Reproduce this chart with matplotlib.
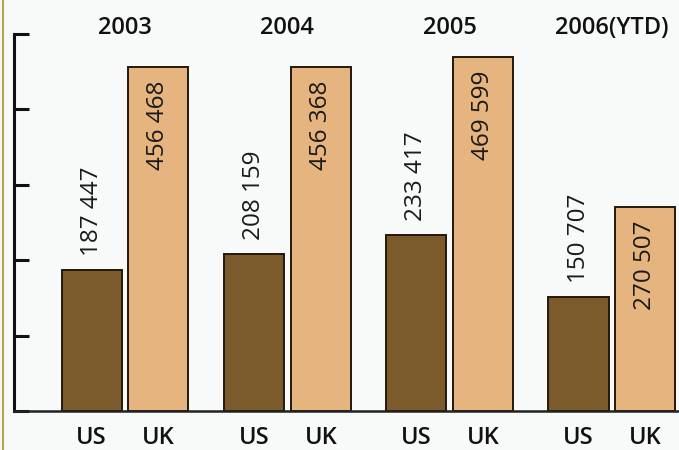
import matplotlib
matplotlib.use("Agg")
import matplotlib.pyplot as plt
import numpy as np
from matplotlib.lines import Line2D

years = ["2003", "2004", "2005", "2006(YTD)"]
countries = ["US", "UK"]
us_values = [187447, 208159, 233417, 150707]
uk_values = [456468, 456368, 469599, 270507]
us_labels = ["187 447", "208 159", "233 417", "150 707"]
uk_labels = ["456 468", "456 368", "469 599", "270 507"]
yticks = [0, 100000, 200000, 300000, 400000, 500000]

plt.rcParams['font.family'] = ['Open Sans', 'DejaVu Sans']

W, H = 679, 450
fig = plt.figure(figsize=(W / 100, H / 100), dpi=100)
fig.patch.set_facecolor("#f8f9f9")
ax = fig.add_axes([14 / W, (H - 411) / H, (W - 14) / W, 377 / H])
ax.set_facecolor("#f8f9f9")

x = np.arange(len(years))
width = 0.37
off = 0.206
us_color = "#7b5a2c"
uk_color = "#e6b47e"
edge = "#24180b"

ax.bar(x - off, us_values, width, color=us_color, edgecolor=edge, linewidth=1.4, zorder=2)
ax.bar(x + off, uk_values, width, color=uk_color, edgecolor=edge, linewidth=1.4, zorder=2)

ax.set_xlim(-0.684, 3.413)
ax.set_ylim(0, 500000)

for xi, v, lab in zip(x, us_values, us_labels):
    ax.annotate(lab, (xi - off, v), xytext=(0, 10), textcoords="offset points",
                rotation=90, ha="center", va="bottom", fontsize=17.5, color="#1a1a1a")
for xi, v, lab in zip(x, uk_values, uk_labels):
    ax.annotate(lab, (xi + off, v), xytext=(0, -10), textcoords="offset points",
                rotation=90, ha="center", va="top", fontsize=17.5, color="#1a1a1a")

for xi, yr in zip(x, years):
    ax.text(xi, 1.016, yr, transform=ax.get_xaxis_transform(), ha="center", va="center",
            fontsize=17, fontweight="semibold", color="#111111", clip_on=False)

ticks_x = np.concatenate([x - off, x + off])
ax.set_xticks(ticks_x)
ax.set_xticklabels([countries[0]] * len(x) + [countries[1]] * len(x), fontsize=17,
                   fontweight="semibold", color="#111111")
ax.tick_params(axis="x", length=0, pad=11)

ax.set_yticks(yticks)
ax.set_yticklabels([])
ax.tick_params(axis="y", direction="in", length=10.5, width=2.2, color="#111111")

for s in ["top", "right"]:
    ax.spines[s].set_visible(False)
ax.spines["left"].set_linewidth(2.2)
ax.spines["left"].set_color("#111111")
ax.spines["bottom"].set_linewidth(1.8)
ax.spines["bottom"].set_color("#222222")

fig.add_artist(Line2D([2.5 / W, 2.5 / W], [0, 1], transform=fig.transFigure, color="#b9a24a", linewidth=1.5))

fig.savefig("out.png", dpi=100, facecolor=fig.get_facecolor())
